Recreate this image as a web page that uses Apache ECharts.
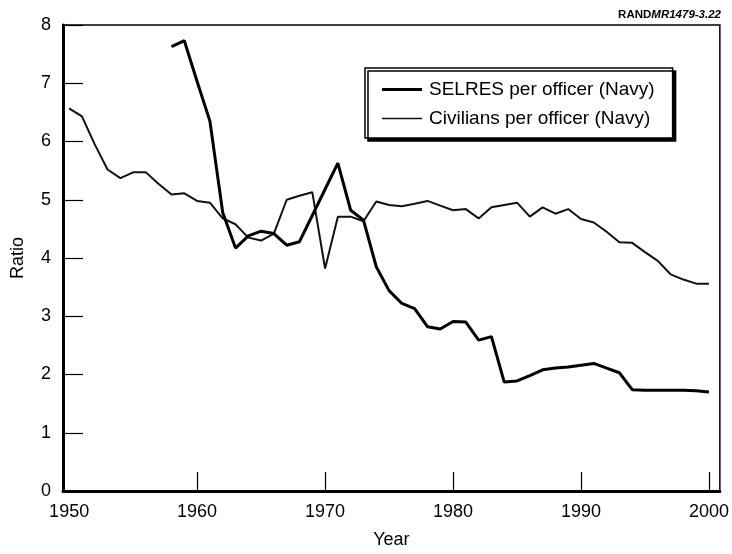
<!DOCTYPE html>
<html>
<head>
<meta charset="utf-8">
<title>SELRES and civilians per officer</title>
<script src="https://cdn.jsdelivr.net/npm/echarts@6/dist/echarts.min.js"></script>
<style>
  html, body { margin: 0; padding: 0; background: #fff; }
  #chart { width: 732px; height: 554px; }
</style>
</head>
<body>
<div id="chart"></div>
<script>
// years 1950 - 2000
var years = [1950, 1951, 1952, 1953, 1954, 1955, 1956, 1957, 1958, 1959,
             1960, 1961, 1962, 1963, 1964, 1965, 1966, 1967, 1968, 1969,
             1970, 1971, 1972, 1973, 1974, 1975, 1976, 1977, 1978, 1979,
             1980, 1981, 1982, 1983, 1984, 1985, 1986, 1987, 1988, 1989,
             1990, 1991, 1992, 1993, 1994, 1995, 1996, 1997, 1998, 1999, 2000]

// SELRES per officer (no data before 1958)
var selres = [null, null, null, null, null, null, null, null, 7.63, 7.73,
              7.03, 6.35, 4.78, 4.17, 4.38, 4.46, 4.42, 4.22, 4.28, 4.73,
              5.18, 5.63, 4.82, 4.65, 3.85, 3.44, 3.22, 3.13, 2.82, 2.78,
              2.91, 2.90, 2.59, 2.65, 1.87, 1.89, 1.98, 2.08, 2.11, 2.13,
              2.16, 2.19, 2.11, 2.03, 1.74, 1.73, 1.73, 1.73, 1.73, 1.72, 1.70]

// Civilians per officer
var civilians = [6.57, 6.43, 5.95, 5.52, 5.37, 5.47, 5.47, 5.27, 5.09, 5.11,
                 4.98, 4.95, 4.68, 4.58, 4.35, 4.30, 4.42, 5.00, 5.07, 5.13,
                 3.82, 4.71, 4.71, 4.63, 4.97, 4.91, 4.89, 4.93, 4.98, 4.90,
                 4.82, 4.84, 4.68, 4.87, 4.91, 4.95, 4.71, 4.87, 4.76, 4.84,
                 4.67, 4.61, 4.45, 4.27, 4.26, 4.10, 3.95, 3.72, 3.63, 3.56, 3.56]

var yearLabels = [1950, 1960, 1970, 1980, 1990, 2000]
var yearTicks = [1960, 1970, 1980, 1990, 2000]

var font = 'Liberation Sans, Arial, Helvetica, sans-serif'

function pairs(vals) {
  return years.map(function (y, i) { return [y, vals[i]] })
}

// legend samples: plain strokes, no symbol
// (tiny corner specks keep the thin one's box the same size as the thick one)
var thickIcon = 'path://M0,0H40V3H0Z'
var thinIcon = 'path://M0,0H0.05V0.05H0Z M39.95,2.95H40V3H39.95Z M0,0.8H40V2.2H0Z'

var chart = echarts.init(document.getElementById('chart'))

var option = {
  backgroundColor: '#fff',
  animation: false,
  textStyle: { fontFamily: font, color: '#000' },
  title: {
    text: '{b|RAND}{i|MR1479-3.22}',
    right: 6,
    top: 4,
    textStyle: {
      rich: {
        b: { fontFamily: font, fontWeight: 'bold', fontSize: 11.5, color: '#000' },
        i: { fontFamily: font, fontStyle: 'italic', fontSize: 11.5, color: '#000' }
      }
    }
  },
  grid: {
    left: 63,
    right: 5,
    top: 25,
    bottom: 62,
    show: true,
    borderColor: '#000',
    borderWidth: 1.5
  },
  legend: {
    orient: 'vertical',
    left: 365,
    top: 68,
    padding: [12, 18, 10, 17],
    itemGap: 10,
    itemWidth: 40,
    itemHeight: 3,
    backgroundColor: '#fff',
    borderColor: '#000',
    borderWidth: 1.5,
    shadowColor: '#000',
    shadowBlur: 0,
    shadowOffsetX: 3,
    shadowOffsetY: 3,
    textStyle: { fontFamily: font, fontSize: 19, color: '#000', padding: [0, 0, 0, 2] },
    data: [
      { name: 'SELRES per officer (Navy)', icon: thickIcon },
      { name: 'Civilians per officer (Navy)', icon: thinIcon }
    ]
  },
  xAxis: {
    type: 'value',
    min: 1949.52,
    max: 2000.85,
    name: 'Year',
    nameLocation: 'middle',
    nameGap: 40,
    nameTextStyle: { fontFamily: font, fontSize: 18, color: '#000' },
    axisLine: { show: true, onZero: false, lineStyle: { color: '#000', width: 3 } },
    axisTick: {
      show: true,
      inside: true,
      length: 19,
      customValues: yearTicks,
      lineStyle: { color: '#000', width: 1.2 }
    },
    axisLabel: {
      fontFamily: font,
      fontSize: 18,
      color: '#000',
      margin: 12,
      customValues: yearLabels,
      formatter: function (v) { return String(v) }
    },
    splitLine: { show: false }
  },
  yAxis: {
    type: 'value',
    min: 0,
    max: 8,
    interval: 1,
    name: 'Ratio',
    nameLocation: 'middle',
    nameGap: 36,
    nameTextStyle: { fontFamily: font, fontSize: 18, color: '#000' },
    axisLine: { show: true, lineStyle: { color: '#000', width: 3 } },
    axisTick: { show: true, inside: true, length: 20, lineStyle: { color: '#000', width: 1.2 } },
    axisLabel: { fontFamily: font, fontSize: 18, color: '#000', margin: 12 },
    splitLine: { show: false }
  },
  series: [
    {
      name: 'SELRES per officer (Navy)',
      type: 'line',
      data: pairs(selres),
      symbol: 'none',
      connectNulls: false,
      z: 3,
      lineStyle: { color: '#000', width: 3 },
      itemStyle: { color: '#000' }
    },
    {
      name: 'Civilians per officer (Navy)',
      type: 'line',
      data: pairs(civilians),
      symbol: 'none',
      z: 2,
      lineStyle: { color: '#111', width: 2 },
      itemStyle: { color: '#111' }
    }
  ]
}

chart.setOption(option)
</script>
</body>
</html>
